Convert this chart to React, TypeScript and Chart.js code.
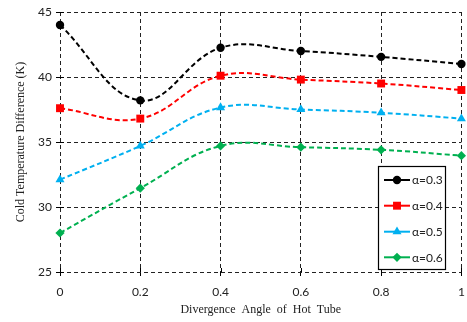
import React, { useEffect, useRef } from "react";
import { Chart, registerables } from "chart.js";

Chart.register(...registerables);

const angles = [0, 0.2, 0.4, 0.6, 0.8, 1.0];
const alpha03 = [44.0, 38.2, 42.25, 42.0, 41.55, 41.0];
const alpha04 = [37.6, 36.8, 40.1, 39.8, 39.5, 39.0];
const alpha05 = [32.1, 34.7, 37.65, 37.5, 37.25, 36.8];
const alpha06 = [28.0, 31.45, 34.7, 34.6, 34.4, 33.95];
const seriesLabels = ["α=0.3", "α=0.4", "α=0.5", "α=0.6"];
const yTicks = [25, 30, 35, 40, 45];

const colors = ["#000000", "#ff0000", "#00b0f0", "#00b050"];
const shapes = ["circle", "rect", "triangle", "rectRot"];
const radii = [4.2, 5.6, 5.2, 4.6];

function drawMarker(ctx: CanvasRenderingContext2D, shape: string, r: number, x: number, y: number, color: string) {
  ctx.fillStyle = color;
  ctx.beginPath();
  if (shape === "circle") {
    ctx.arc(x, y, r, 0, Math.PI * 2);
  } else if (shape === "rect") {
    const s = r / Math.SQRT2;
    ctx.rect(x - s, y - s, 2 * s, 2 * s);
  } else if (shape === "triangle") {
    ctx.moveTo(x, y - r);
    ctx.lineTo(x + r * 0.866, y + r * 0.5);
    ctx.lineTo(x - r * 0.866, y + r * 0.5);
    ctx.closePath();
  } else {
    ctx.moveTo(x, y - r);
    ctx.lineTo(x + r, y);
    ctx.lineTo(x, y + r);
    ctx.lineTo(x - r, y);
    ctx.closePath();
  }
  ctx.fill();
}

const innerTicksPlugin = {
  id: "innerTicks",
  beforeDatasetsDraw(chart: any) {
    const ctx = chart.ctx;
    const { left, bottom } = chart.chartArea;
    const xs = chart.scales.x;
    const ys = chart.scales.y;
    ctx.save();
    ctx.setLineDash([]);
    ctx.strokeStyle = "#000000";
    ctx.lineWidth = 1;
    ctx.beginPath();
    ys.ticks.forEach((t: any) => {
      const y = Math.round(ys.getPixelForValue(t.value)) + 0.5;
      ctx.moveTo(left, y);
      ctx.lineTo(left + 4, y);
    });
    xs.ticks.forEach((t: any) => {
      const x = Math.round(xs.getPixelForValue(t.value)) + 0.5;
      ctx.moveTo(x, bottom);
      ctx.lineTo(x, bottom - 4);
    });
    ctx.stroke();
    ctx.restore();
  },
};

const legendPlugin = {
  id: "insideLegend",
  afterDraw(chart: any) {
    const ctx = chart.ctx;
    const x0 = 378.5, y0 = 166.5, w = 67, h = 103;
    ctx.save();
    ctx.setLineDash([]);
    ctx.fillStyle = "#ffffff";
    ctx.fillRect(x0, y0, w, h);
    ctx.strokeStyle = "#000000";
    ctx.lineWidth = 1.2;
    ctx.strokeRect(x0, y0, w, h);
    const rows = [180, 205.7, 231.7, 257.3];
    chart.data.datasets.forEach((ds: any, i: number) => {
      const y = rows[i];
      ctx.strokeStyle = ds.borderColor;
      ctx.lineWidth = 2;
      ctx.beginPath();
      ctx.moveTo(384, y);
      ctx.lineTo(410, y);
      ctx.stroke();
      drawMarker(ctx, shapes[i], radii[i], 397, y, ds.backgroundColor);
      ctx.fillStyle = "#222222";
      ctx.font = "12px Lato, 'Open Sans', sans-serif";
      ctx.textBaseline = "middle";
      ctx.textAlign = "left";
      ctx.fillText(ds.label, 412, y + 0.5);
    });
    ctx.restore();
  },
};

export default function App() {
  const ref = useRef<HTMLCanvasElement | null>(null);
  useEffect(() => {
    if (!ref.current) return;
    const all = [alpha03, alpha04, alpha05, alpha06];
    const chart = new Chart(ref.current, {
      type: "line",
      data: {
        datasets: all.map((vals, i) => ({
          label: seriesLabels[i],
          data: angles.map((a, j) => ({ x: a, y: vals[j] })),
          borderColor: colors[i],
          backgroundColor: colors[i],
          borderWidth: 2,
          borderDash: [5, 3],
          pointStyle: shapes[i] as any,
          pointRadius: radii[i],
          pointBorderWidth: 0,
          pointBackgroundColor: colors[i],
          tension: 0.4,
          clip: false as any,
          fill: false,
        })),
      },
      options: {
        animation: false,
        responsive: true,
        maintainAspectRatio: false,
        layout: { padding: { top: 12, right: 5, left: 0, bottom: 0 } },
        plugins: { legend: { display: false }, tooltip: { enabled: false } },
        scales: {
          x: {
            type: "linear",
            min: 0,
            max: 1,
            afterFit: (s: any) => {
              s.height = 50;
              s.paddingRight = 0;
              s.paddingLeft = 0;
            },
            ticks: {
              stepSize: 0.2,
              padding: 9,
              color: "#222222",
              font: { family: "Lato, 'Open Sans', sans-serif", size: 12 },
              callback: (v: any) => String(Math.round(Number(v) * 10) / 10),
            },
            grid: {
              color: "#222222",
              lineWidth: 1,
              drawTicks: true,
              tickLength: 4,
              tickColor: "#000000",
              tickBorderDash: [],
            },
            border: { display: false, dash: [4, 3] },
            title: {
              display: true,
              text: "Divergence  Angle  of  Hot  Tube",
              color: "#222222",
              font: { family: "'Liberation Serif', 'Times New Roman', serif", size: 12 },
              padding: { top: 0, bottom: 5 },
            },
          },
          y: {
            type: "linear",
            min: 25,
            max: 45,
            afterFit: (s: any) => {
              s.width = 60;
            },
            afterBuildTicks: (s: any) => {
              s.ticks = yTicks.map((v) => ({ value: v }));
            },
            ticks: {
              padding: 4,
              color: "#222222",
              font: { family: "Lato, 'Open Sans', sans-serif", size: 12 },
            },
            grid: {
              color: "#222222",
              lineWidth: 1,
              drawTicks: true,
              tickLength: 4,
              tickColor: "#000000",
              tickBorderDash: [],
            },
            border: { display: false, dash: [4, 3] },
            title: {
              display: true,
              text: "Cold Temperature Difference (K)",
              color: "#222222",
              font: { family: "'Liberation Serif', 'Times New Roman', serif", size: 12 },
              padding: { top: 14, bottom: 0 },
            },
          },
        },
      },
      plugins: [innerTicksPlugin, legendPlugin],
    });
    return () => chart.destroy();
  }, []);
  return (
    <div style={{ position: "fixed", left: 0, top: 0, width: 467, height: 322, background: "#fff" }}>
      <canvas ref={ref} />
    </div>
  );
}
